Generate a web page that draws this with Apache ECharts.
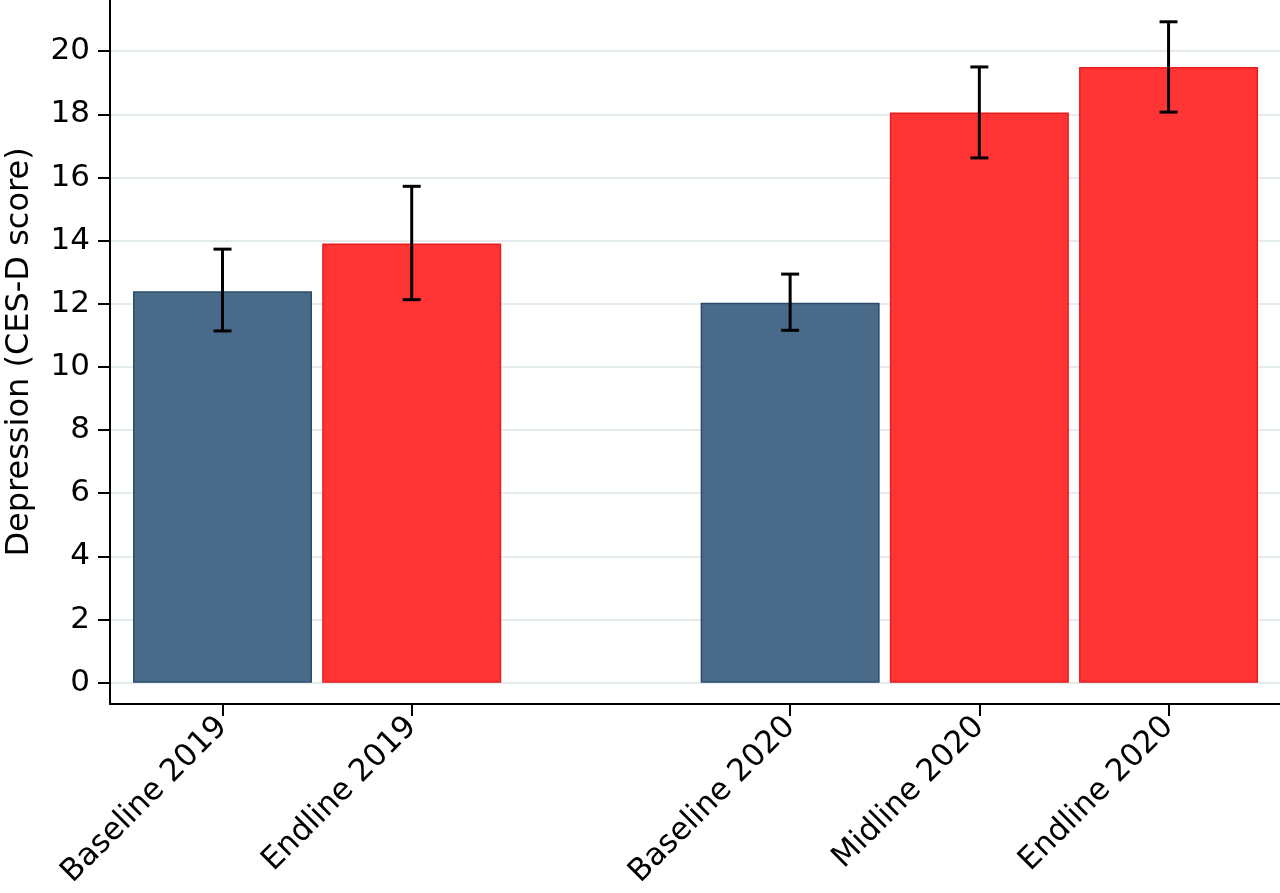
<!DOCTYPE html>
<html>
<head>
<meta charset="utf-8">
<script src="https://cdn.jsdelivr.net/npm/echarts@6/dist/echarts.min.js"></script>
<style>
  html, body { margin: 0; padding: 0; background: #fff; }
  #chart { width: 1280px; height: 893px; }
</style>
</head>
<body>
<div id="chart"></div>
<script>
// Categories ('' marks the empty slot between the 2019 and 2020 groups)
const categories = ['Baseline 2019', 'Endline 2019', '', 'Baseline 2020', 'Midline 2020', 'Endline 2020'];
// Mean CES-D score
const means = [12.40, 13.91, null, 12.03, 18.06, 19.50];
// 95% CI lower / upper bounds
const ciLow = [11.14, 12.13, null, 11.16, 16.62, 18.07];
const ciHigh = [13.73, 15.72, null, 12.94, 19.50, 20.93];
// y-axis tick labels
const yTicks = [0, 2, 4, 6, 8, 10, 12, 14, 16, 18, 20];

const BLUE = '#4a6a8a', BLUE_BORDER = '#2c4c6c';
const RED = '#ff3434', RED_BORDER = '#e81c1c';
const FONT = 'DejaVu Sans, Liberation Sans, Arial, sans-serif';

const xIdx = categories.map((c, i) => i).filter(i => categories[i] !== '');

const barData = xIdx.map(i => {
  const isBase = categories[i].indexOf('Baseline') === 0;
  return {
    value: [i, means[i]],
    itemStyle: {
      color: isBase ? BLUE : RED,
      borderColor: isBase ? BLUE_BORDER : RED_BORDER,
      borderWidth: 1.5
    }
  };
});
const errData = xIdx.map(i => [i, ciLow[i], ciHigh[i]]);

const chart = echarts.init(document.getElementById('chart'), null, { renderer: 'canvas' });
chart.setOption({
  animation: false,
  backgroundColor: '#fff',
  grid: { left: 110, right: 0, top: 0, bottom: 189, containLabel: false, outerBoundsMode: 'none' },
  xAxis: {
    type: 'value',
    min: -0.5946,
    max: 5.589,
    axisLine: { show: true, onZero: false, lineStyle: { color: '#000', width: 2 } },
    axisTick: { show: true, customValues: xIdx, length: 12, lineStyle: { color: '#000', width: 2 } },
    axisLabel: {
      show: true, customValues: xIdx, rotate: 45, margin: 18,
      fontSize: 31, color: '#000', fontFamily: FONT,
      formatter: v => categories[Math.round(v)]
    },
    splitLine: { show: false }
  },
  yAxis: {
    type: 'value',
    min: -0.674,
    max: 21.62,
    name: 'Depression (CES-D score)',
    nameLocation: 'middle',
    nameGap: 74,
    nameTextStyle: { fontSize: 32, color: '#000', fontFamily: FONT },
    axisLine: { show: true, onZero: false, lineStyle: { color: '#000', width: 2 } },
    axisTick: { show: true, customValues: yTicks, length: 12, lineStyle: { color: '#000', width: 2 } },
    axisLabel: { show: true, customValues: yTicks, margin: 20, fontSize: 31, color: '#000', fontFamily: FONT },
    splitLine: { show: true, lineStyle: { color: '#e4ebed', width: 2 } }
  },
  series: [
    {
      type: 'bar',
      data: barData,
      barWidth: 179,
      silent: true
    },
    {
      type: 'custom',
      data: errData,
      silent: true,
      z: 5,
      renderItem: function (params, api) {
        const x = api.value(0);
        const lo = api.coord([x, api.value(1)]);
        const hi = api.coord([x, api.value(2)]);
        const hw = 9;
        const style = { stroke: '#000', lineWidth: 3 };
        return {
          type: 'group',
          children: [
            { type: 'line', shape: { x1: lo[0], y1: lo[1], x2: hi[0], y2: hi[1] }, style: style },
            { type: 'line', shape: { x1: lo[0] - hw, y1: lo[1], x2: lo[0] + hw, y2: lo[1] }, style: style },
            { type: 'line', shape: { x1: hi[0] - hw, y1: hi[1], x2: hi[0] + hw, y2: hi[1] }, style: style }
          ]
        };
      }
    }
  ]
});
</script>
</body>
</html>
